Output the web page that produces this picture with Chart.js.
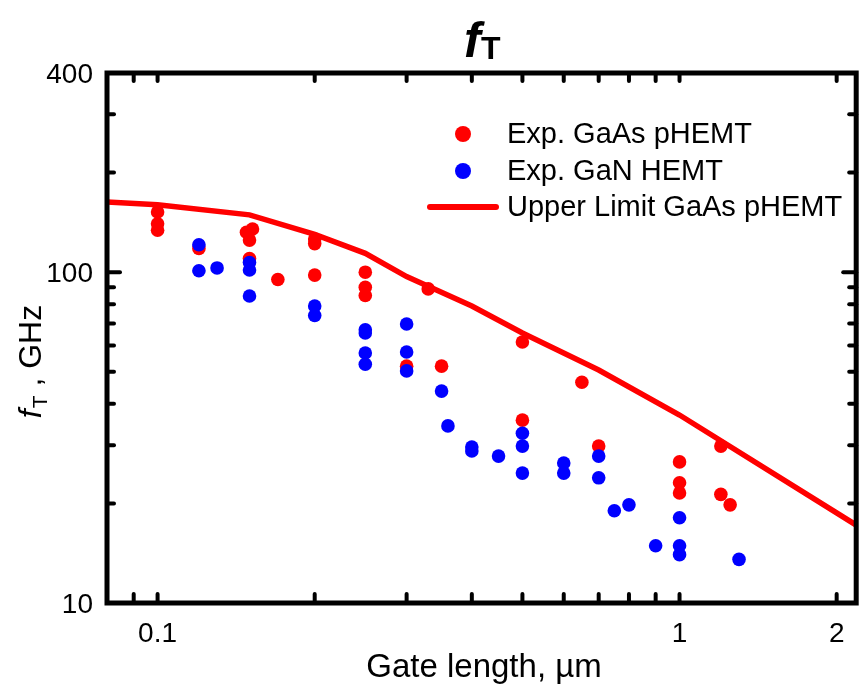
<!DOCTYPE html>
<html><head><meta charset="utf-8">
<script src="https://cdn.jsdelivr.net/npm/chart.js@4/dist/chart.umd.min.js"></script>
<style>html,body{margin:0;padding:0;background:#fff;}#wrap{width:863px;height:686px;position:relative;}</style>
</head><body><div id="wrap"><canvas id="c" width="863" height="686"></canvas></div>
<script>
// ---- data (gate length in µm, fT in GHz) ----
const gaasGate = [0.1,0.1,0.1, 0.12, 0.148,0.152,0.15,0.15, 0.17, 0.2,0.2,0.2, 0.25,0.25,0.25, 0.3, 0.33, 0.35, 0.5,0.5, 0.65, 0.7, 1.0,1.0,1.0, 1.2,1.2, 1.25];
const gaasFt   = [152,140,134, 118, 132,135,125,110, 95, 126,122,98, 100,90,85, 52, 89, 52, 61.5,35.7, 46.5, 29.8, 26.7,23.1,21.5, 29.8,21.3, 19.8];
const ganGate  = [0.12,0.12, 0.13, 0.15,0.15,0.15, 0.2,0.2, 0.25,0.25,0.25,0.25, 0.3,0.3,0.3, 0.35, 0.36, 0.4,0.4, 0.45, 0.5,0.5,0.5, 0.6,0.6, 0.7,0.7, 0.75, 0.8, 0.9, 1.0,1.0,1.0, 1.3];
const ganFt    = [121,101, 103, 107,101.5,84.7, 79,74, 67,65.5,57,52.7, 69.7,57.4,50.3, 43.7, 34.3, 29.6,28.8, 27.8, 32.6,29.8,24.7, 26.5,24.7, 27.8,23.9, 19.0, 19.8, 14.9, 18.1,14.9,14.0, 13.55];
const limitGate = [0.08, 0.1, 0.15, 0.2, 0.25, 0.3, 0.4, 0.5, 0.7, 1.0, 2.18];
const limitFt   = [163, 160, 149, 130, 114, 97, 79, 65.5, 50.6, 37, 17.2];
const xTickLabels = [0.1, 1, 2];
const yTickLabels = [10, 100, 400];
const xTickMarks = [0.09,0.1,0.2,0.3,0.4,0.5,0.6,0.7,0.8,0.9,1,2];
const yMajorMarks = [100];
const yMinorMarks = [20,30,40,50,60,70,80,90,200,300];
const legendLabels = ['Exp. GaAs pHEMT','Exp. GaN HEMT','Upper Limit GaAs pHEMT'];

const FONT = '"Liberation Sans", Arial, Helvetica, sans-serif';
const RED = '#ff0000', BLUE = '#0000ff';

const pts = (xs, ys) => xs.map((x, i) => ({x, y: ys[i]}));

const decor = {
  id: 'decor',
  afterDraw(chart) {
    const ctx = chart.ctx;
    const xs = chart.scales.x, ys = chart.scales.y;
    const {left, right, top, bottom} = chart.chartArea;
    ctx.save();
    ctx.strokeStyle = '#000';
    ctx.lineCap = 'round';
    ctx.lineWidth = 4;
    const seg = (x1, y1, x2, y2) => { ctx.beginPath(); ctx.moveTo(x1, y1); ctx.lineTo(x2, y2); ctx.stroke(); };
    xTickMarks.forEach(v => { const p = xs.getPixelForValue(v); seg(p, bottom, p, bottom - 9); seg(p, top, p, top + 8); });
    yMajorMarks.forEach(v => { const p = ys.getPixelForValue(v); seg(left, p, left + 13, p); seg(right, p, right - 13, p); });
    yMinorMarks.forEach(v => { const p = ys.getPixelForValue(v); seg(left, p, left + 7, p); seg(right, p, right - 7, p); });
    // frame
    ctx.lineCap = 'butt';
    ctx.lineWidth = 5;
    ctx.strokeRect(left, top, right - left, bottom - top);
    // tick labels
    ctx.fillStyle = '#000';
    ctx.font = '28px ' + FONT;
    ctx.textAlign = 'right'; ctx.textBaseline = 'alphabetic';
    yTickLabels.forEach(v => { ctx.fillText(String(v), 93, ys.getPixelForValue(v) + 10); });
    ctx.textAlign = 'center';
    xTickLabels.forEach(v => { ctx.fillText(String(v), xs.getPixelForValue(v), 642); });
    // x title
    ctx.font = '33px ' + FONT;
    ctx.fillText('Gate length, µm', 484, 677);
    // y title
    ctx.save();
    ctx.translate(41, 362);
    ctx.rotate(-Math.PI / 2);
    ctx.textAlign = 'left';
    ctx.font = 'italic 32px ' + FONT;
    const w1 = ctx.measureText('f').width;
    ctx.font = '21px ' + FONT;
    const w2 = ctx.measureText('T').width;
    ctx.font = '32px ' + FONT;
    const w3 = ctx.measureText(' , GHz').width;
    let x0 = -(w1 + w2 + w3) / 2;
    ctx.font = 'italic 32px ' + FONT; ctx.fillText('f', x0, 0); x0 += w1 + 1;
    ctx.font = '21px ' + FONT; ctx.fillText('T', x0, 6); x0 += w2;
    ctx.font = '32px ' + FONT; ctx.fillText(' , GHz', x0, 0);
    ctx.restore();
    // main title
    ctx.textAlign = 'left';
    ctx.font = 'italic bold 50px ' + FONT;
    ctx.fillText('f', 464, 57);
    ctx.font = 'bold 32px ' + FONT;
    ctx.fillText('T', 481, 59);
    // legend
    ctx.font = '29px ' + FONT;
    ctx.textBaseline = 'middle';
    const ly = [134, 171, 207];
    ctx.fillStyle = RED; ctx.beginPath(); ctx.arc(463, ly[0], 8, 0, Math.PI * 2); ctx.fill();
    ctx.fillStyle = BLUE; ctx.beginPath(); ctx.arc(463, ly[1], 8, 0, Math.PI * 2); ctx.fill();
    ctx.strokeStyle = RED; ctx.lineWidth = 6; ctx.lineCap = 'round'; seg(430, ly[2], 496, ly[2]);
    ctx.fillStyle = '#000';
    legendLabels.forEach((t, i) => ctx.fillText(t, 507, ly[i] + 1));
    ctx.restore();
  }
};

new Chart(document.getElementById('c'), {
  type: 'scatter',
  data: {
    datasets: [
      { label: legendLabels[1], data: pts(ganGate, ganFt), backgroundColor: BLUE, borderWidth: 0, pointRadius: 6.8, order: 0 },
      { label: legendLabels[0], data: pts(gaasGate, gaasFt), backgroundColor: RED, borderWidth: 0, pointRadius: 6.8, order: 1 },
      { type: 'line', label: legendLabels[2], data: pts(limitGate, limitFt), borderColor: RED, borderWidth: 5.5, pointRadius: 0, fill: false, tension: 0, order: 2 }
    ]
  },
  options: {
    responsive: false,
    animation: false,
    devicePixelRatio: 1,
    layout: { padding: { left: 107, top: 73, right: 1, bottom: 83 } },
    plugins: { legend: { display: false }, tooltip: { enabled: false }, title: { display: false } },
    scales: {
      x: { type: 'logarithmic', min: 0.08, max: 2.18, display: false },
      y: { type: 'logarithmic', min: 10, max: 400, display: false }
    }
  },
  plugins: [decor]
});
</script>
</body></html>
